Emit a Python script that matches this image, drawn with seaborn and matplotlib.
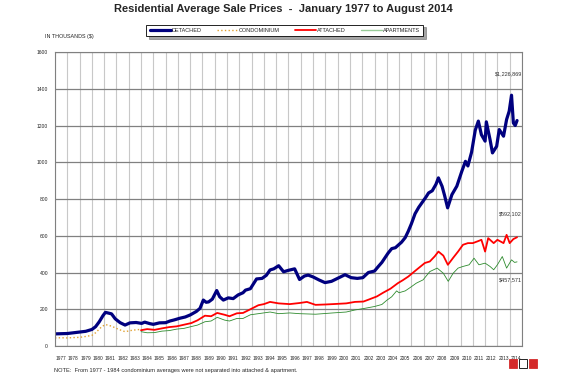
import pandas as pd
import matplotlib
matplotlib.use("Agg")
import matplotlib.pyplot as plt
from matplotlib.lines import Line2D
from matplotlib.patches import Rectangle
import seaborn as sns

# === DATOS (miles de $) ===
det_year = [1977.0, 1977.5, 1978.0, 1978.5, 1979.0, 1979.5, 1980.0, 1980.3, 1980.6, 1980.9,
            1981.1, 1981.3, 1981.6, 1981.9, 1982.3, 1982.7, 1983.1, 1983.6, 1984.05, 1984.3,
            1984.7, 1985.0, 1985.5, 1986.0, 1986.35, 1986.7, 1987.15, 1987.6, 1988.0, 1988.5,
            1988.8, 1989.07, 1989.3, 1989.5, 1989.8, 1990.16, 1990.4, 1990.7, 1991.1, 1991.5,
            1991.9, 1992.3, 1992.5, 1992.9, 1993.4, 1993.85, 1994.2, 1994.5, 1994.8, 1995.2,
            1995.6, 1996.0, 1996.5, 1996.9, 1997.3, 1997.6, 1998.0, 1998.5, 1998.97, 1999.5,
            2000.05, 2000.6, 2001.1, 2001.6, 2002.05, 2002.5, 2003.0, 2003.3, 2003.6, 2004.1,
            2004.4, 2004.7, 2005.2, 2005.5, 2005.75, 2006.0, 2006.3, 2006.6, 2006.97, 2007.2,
            2007.4, 2007.7, 2008.0, 2008.2, 2008.5, 2008.7, 2008.95, 2009.3, 2009.7, 2010.1,
            2010.4, 2010.6, 2010.9, 2011.2, 2011.45, 2011.7, 2012.0, 2012.1, 2012.4, 2012.6,
            2012.94, 2013.15, 2013.5, 2013.75, 2013.96, 2014.15, 2014.3, 2014.45, 2014.6]
det_price = [66, 67, 68, 72, 76, 80, 90, 105, 132, 165,
             183, 180, 175, 148, 127, 114, 126, 128, 123, 130,
             122, 118, 126, 127, 136, 142, 151, 158, 169, 188,
             205, 250, 238, 240, 255, 302, 268, 250, 262, 258,
             278, 290, 304, 312, 365, 368, 385, 414, 420, 437,
             404, 412, 420, 362, 381, 386, 376, 359, 345, 352,
             370, 388, 372, 368, 372, 400, 408, 432, 455, 505,
             530, 535, 565, 590, 625, 665, 720, 755, 790, 812,
             833, 845, 880, 915, 869, 820, 752, 824, 870, 950,
             1005, 980, 1055, 1175, 1224, 1150, 1115, 1220, 1124, 1051,
             1087, 1178, 1142, 1233, 1278, 1365, 1214, 1200, 1227]

condo_year = [1977.0, 1977.5, 1978.0, 1978.5, 1979.0, 1979.5, 1980.0, 1980.3, 1980.8, 1981.1,
              1981.6, 1982.2, 1982.7, 1983.3, 1983.9]
condo_price = [44, 45, 44, 46, 47, 52, 58, 72, 105, 117,
               108, 90, 78, 86, 90]

att_year = [1984.0, 1984.5, 1985.1, 1985.7, 1986.3, 1986.9, 1987.5, 1988.1, 1988.6, 1989.2,
            1989.7, 1990.2, 1990.8, 1991.2, 1991.8, 1992.3, 1992.9, 1993.55, 1994.0, 1994.5,
            1995.2, 1996.1, 1996.9, 1997.5, 1998.2, 1999.0, 1999.6, 2000.7, 2001.4, 2002.1,
            2002.5, 2003.2, 2003.7, 2004.3, 2004.9, 2005.3, 2005.75, 2006.4, 2007.1, 2007.5,
            2007.9, 2008.2, 2008.6, 2008.97, 2009.4, 2009.8, 2010.2, 2010.6, 2011.0, 2011.4,
            2011.7, 2012.0, 2012.25, 2012.7, 2013.0, 2013.5, 2013.75, 2014.0, 2014.3, 2014.6]
att_price = [86, 92, 88, 96, 103, 107, 116, 125, 140, 165,
             162, 180, 170, 162, 178, 180, 200, 222, 228, 240,
             232, 228, 234, 240, 224, 226, 228, 232, 240, 242,
             252, 270, 290, 312, 342, 358, 378, 414, 452, 460,
             488, 514, 492, 442, 480, 514, 551, 560, 560, 570,
             578, 514, 587, 560, 578, 560, 605, 560, 582, 592]

apt_year = [1984.0, 1984.5, 1985.1, 1985.7, 1986.3, 1986.9, 1987.5, 1988.1, 1988.6, 1989.2,
            1989.7, 1990.2, 1990.8, 1991.2, 1991.8, 1992.3, 1992.9, 1993.55, 1994.5, 1995.2,
            1996.1, 1996.9, 1998.2, 1999.6, 2000.7, 2001.4, 2002.2, 2003.0, 2003.6, 2004.0,
            2004.4, 2004.8, 2005.0, 2005.5, 2005.9, 2006.4, 2006.95, 2007.5, 2008.1, 2008.6,
            2009.0, 2009.4, 2009.8, 2010.2, 2010.7, 2011.1, 2011.5, 2012.0, 2012.4, 2012.7,
            2013.0, 2013.4, 2013.75, 2014.15, 2014.4, 2014.6]
apt_price = [78, 72, 73, 81, 84, 92, 96, 106, 114, 132,
             136, 156, 141, 136, 150, 150, 170, 176, 185, 176,
             180, 176, 173, 180, 185, 196, 205, 215, 226, 249,
             268, 300, 290, 300, 318, 342, 360, 405, 424, 396,
             352, 396, 424, 433, 442, 478, 442, 451, 433, 415,
             442, 487, 424, 469, 455, 458]

years = list(range(1977, 2015))
yticks = list(range(0, 1601, 200))

# etiquetas de último valor
end_labels = ["$1,226,869", "$592,102", "$457,571"]
end_label_y = [1480, 718, 359]

# === ESTILO ===
sns.set_style("white")
plt.rcParams["font.family"] = ["Liberation Sans", "DejaVu Sans"]

fig = plt.figure(figsize=(5.66, 3.77), dpi=100)
ax = fig.add_axes([0.0972, 0.0822, 0.8250, 0.7798])

series = [
    ("DETACHED", det_year, det_price, "#00007F", 2.3, "-"),
    ("CONDOMINIUM", condo_year, condo_price, "#E0A030", 1.0, ":"),
    ("ATTACHED", att_year, att_price, "#FF0000", 1.3, "-"),
    ("APARTMENTS", apt_year, apt_price, "#2E8B2E", 0.6, "-"),
]
handles = []
for name, xs, ys, col, lw, ls in series:
    d = pd.DataFrame({"year": xs, "price": ys})
    sns.lineplot(data=d, x="year", y="price", ax=ax, color=col, linewidth=lw,
                 linestyle=ls, estimator=None, sort=False)
    hcol = "#99CC99" if name == "APARTMENTS" else col
    handles.append(Line2D([0], [0], color=hcol, lw=max(lw, 1.0), ls=ls, label=name))

# === EJES ===
ax.set_xlim(1977, 2015)
ax.set_ylim(0, 1600)
ax.set_xticks(years + [2015])
ax.set_xticklabels([])
ax.set_xticks([y + 0.5 for y in years], minor=True)
ax.set_xticklabels([str(y) for y in years], minor=True, fontsize=3.4, color="#222222")
ax.tick_params(axis="x", which="minor", length=0, pad=7)
ax.tick_params(axis="x", which="major", length=3, color="#808080", width=0.6)
ax.set_yticks(yticks)
ax.set_yticklabels([str(v) for v in yticks], fontsize=3.6, color="#222222")
ax.tick_params(axis="y", length=3, color="#606060", width=0.6, pad=2)
ax.grid(axis="x", which="major", color="#C8C8C8", lw=0.8)
ax.grid(axis="y", which="major", color="#808080", lw=0.9)
ax.set_axisbelow(True)
for s in ax.spines.values():
    s.set_color("#808080")
    s.set_linewidth(0.8)
ax.set_xlabel("")
ax.set_ylabel("")

# === TEXTOS ===
fig.text(0.5, 0.976, "Residential Average Sale Prices  -  January 1977 to August 2014",
         ha="center", va="center", fontsize=8.0, fontweight="bold")
fig.text(0.080, 0.902, "IN THOUSANDS ($)", ha="left", va="center", fontsize=3.9)
for txt, yv in zip(end_labels, end_label_y):
    ax.text(2015, yv, txt, ha="right", va="center", fontsize=4.0, color="#333333")
fig.text(0.095, 0.016, "NOTE:  From 1977 - 1984 condominium averages were not separated into attached & apartment.",
         ha="left", va="center", fontsize=4.1)

leg = fig.legend(handles=handles, loc="center", bbox_to_anchor=(0.503, 0.919), ncol=4,
                 frameon=True, fancybox=False, shadow=True, edgecolor="black",
                 handlelength=3.8, handletextpad=0.1, columnspacing=2.8, borderpad=0.6,
                 prop={"size": 4.0})
leg.get_frame().set_linewidth(0.6)

# logo pequeño abajo a la derecha
for i, (fc, ec) in enumerate([("#D42A2A", "#D42A2A"), ("white", "black"), ("#D42A2A", "#D42A2A")]):
    fig.add_artist(Rectangle((0.900 + i * 0.017, 0.025), 0.014, 0.022, transform=fig.transFigure,
                             facecolor=fc, edgecolor=ec, lw=0.6))

fig.savefig("out.png", dpi=100)
